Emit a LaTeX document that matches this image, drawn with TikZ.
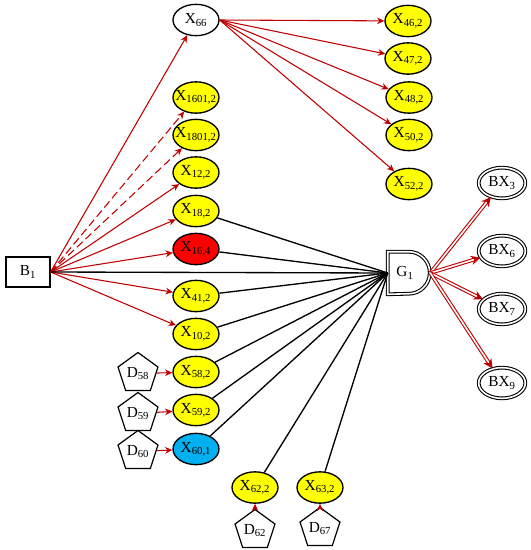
\documentclass[tikz,border=0pt]{standalone}
\usepackage{fontspec}
\setmainfont{Liberation Serif}
\usetikzlibrary{arrows.meta, shapes.geometric}

\definecolor{arrowred}{RGB}{192,0,0}
\definecolor{evtyellow}{RGB}{255,255,0}
\definecolor{evtred}{RGB}{255,0,0}
\definecolor{evtblue}{RGB}{0,176,240}

\tikzset{
  evt/.style={draw, ellipse, line width=1pt, fill=evtyellow, minimum width=34.5pt, minimum height=23.5pt, inner xsep=-4pt, inner ysep=0pt},
  dev/.style={draw, regular polygon, regular polygon sides=5, line width=0.9pt, fill=white, minimum size=31.5pt, inner sep=0pt},
  bxevt/.style={draw, ellipse, double, double distance=1.2pt, line width=0.8pt, minimum width=35pt, minimum height=23pt, inner xsep=-4pt, inner ysep=0pt},
  rarr/.style={draw=arrowred, line width=0.8pt, -{Stealth[length=5.5pt,width=5pt]}},
  blk/.style={draw=black, line width=1pt},
  dblarr/.style={draw=arrowred, double=white, double distance=1.2pt, line width=0.8pt, -{Stealth[length=7pt,width=7pt]}}
}

\begin{document}
\begin{tikzpicture}[x=0.75pt, y=-0.75pt, font=\fontsize{11.5}{13}\selectfont]
        \useasboundingbox (0,0) rectangle (531,550);

        \node[draw, rectangle, line width=0.9pt, minimum width=33pt, minimum height=22.5pt] (b1) at (28,272) {B\textsubscript{1}};

        \node[evt, fill=white] (x66) at (196,20) {X\textsubscript{66}};
        \node[evt] (x1601) at (196,97.5) {X\textsubscript{1601,2}};
        \node[evt] (x1801) at (196,135) {X\textsubscript{1801,2}};
        \node[evt] (x12) at (196,172.5) {X\textsubscript{12,2}};
        \node[evt] (x18) at (196,211) {X\textsubscript{18,2}};
        \node[evt, fill=evtred] (x16) at (196,249) {X\textsubscript{16,4}};
        \node[evt] (x41) at (196,296) {X\textsubscript{41,2}};
        \node[evt] (x10) at (196,334) {X\textsubscript{10,2}};
        \node[evt] (x58) at (196,372) {X\textsubscript{58,2}};
        \node[evt] (x59) at (196,410) {X\textsubscript{59,2}};
        \node[evt, fill=evtblue] (x60) at (196,449) {X\textsubscript{60,1}};
        \node[evt] (x62) at (255,487.5) {X\textsubscript{62,2}};
        \node[evt] (x63) at (320,487.5) {X\textsubscript{63,2}};

        \node[dev] (d58) at (138,373.5) {D\textsubscript{58}};
        \node[dev] (d59) at (138,413.5) {D\textsubscript{59}};
        \node[dev] (d60) at (138,451.5) {D\textsubscript{60}};
        \node[dev] (d62) at (255,530.5) {D\textsubscript{62}};
        \node[dev] (d67) at (320,528.5) {D\textsubscript{67}};

        \node[evt] (x46) at (408,21) {X\textsubscript{46,2}};
        \node[evt] (x47) at (408,58.5) {X\textsubscript{47,2}};
        \node[evt] (x48) at (409,97.5) {X\textsubscript{48,2}};
        \node[evt] (x50) at (409,135) {X\textsubscript{50,2}};
        \node[evt] (x52) at (409,184) {X\textsubscript{52,2}};

        \node[minimum width=31.5pt, minimum height=31.5pt, inner sep=0pt] (g1) at (409,273) {};
        \draw[double, double distance=1.2pt, line width=0.8pt] (g1.south west) -- (g1.north west) -- ++(21,0) arc (-90:90:21) -- cycle;
        \node (g1txt) at (405,273) {G\textsubscript{1}};

        \node[bxevt] (bx3) at (502,183) {BX\textsubscript{3}};
        \node[bxevt] (bx6) at (502,251) {BX\textsubscript{6}};
        \node[bxevt] (bx7) at (502,309) {BX\textsubscript{7}};
        \node[bxevt] (bx9) at (502,383) {BX\textsubscript{9}};

        \draw[rarr] (b1.east) -- (x66);
        \draw[rarr, dash pattern=on 6pt off 3pt] (b1.east) -- (x1601);
        \draw[rarr, dash pattern=on 6pt off 3pt] (b1.east) -- (x1801);
        \draw[rarr] (b1.east) -- (x12);
        \draw[rarr] (b1.east) -- (x18);
        \draw[rarr] (b1.east) -- (x16);
        \draw[rarr] (b1.east) -- (x41);
        \draw[rarr] (b1.east) -- (x10);

        \draw[rarr] (x66.east) -- (x46);
        \draw[rarr] (x66.east) -- (x47);
        \draw[rarr] (x66.east) -- (x48);
        \draw[rarr] (x66.east) -- (x50);
        \draw[rarr] (x66.east) -- (x52);

        \draw[rarr] (d58) -- (x58);
        \draw[rarr] (d59) -- (x59);
        \draw[rarr] (d60) -- (x60);
        \draw[rarr] (d62) -- (x62);
        \draw[rarr] (d67) -- (x63);

        \draw[blk] (x18) -- (g1.west);
        \draw[blk] (x16) -- (g1.west);
        \draw[blk] (b1.east) -- (g1.west);
        \draw[blk] (x41) -- (g1.west);
        \draw[blk] (x10) -- (g1.west);
        \draw[blk] (x58) -- (g1.west);
        \draw[blk] (x59) -- (g1.west);
        \draw[blk] (x60) -- (g1.west);
        \draw[blk] (x62) -- (g1.west);
        \draw[blk] (x63) -- (g1.west);

        \draw[dblarr] (g1.east) -- (bx3);
        \draw[dblarr] (g1.east) -- (bx6);
        \draw[dblarr] (g1.east) -- (bx7);
        \draw[dblarr] (g1.east) -- (bx9);
    \end{tikzpicture}
\end{document}
